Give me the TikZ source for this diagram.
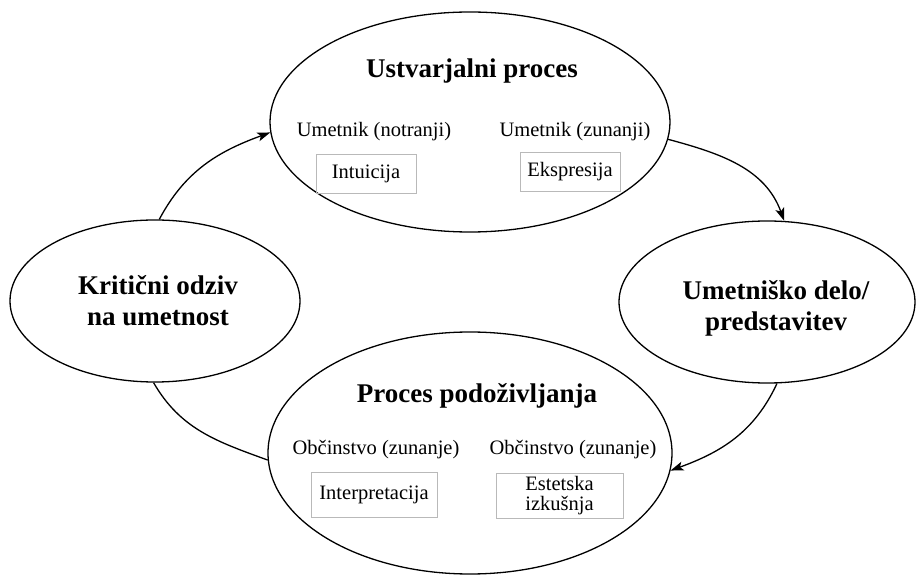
\documentclass[tikz,border=0pt]{standalone}
\usepackage{fontspec}
\setmainfont{Liberation Serif}
\usetikzlibrary{arrows.meta,shapes.geometric}

\begin{document}
\begin{tikzpicture}[
    x = 1pt, y = 1pt,
    line width = 1.3pt,
    >={Stealth[length=13pt,width=9pt,inset=3pt]},
    blob/.style = {
      draw,
      ellipse,
      inner sep = 0pt
    },
    head/.style = {
      font = \fontsize{27}{31}\selectfont\bfseries,
      align = center,
      inner sep = 0pt
    },
    lbl/.style = {
      font = \fontsize{20.5}{23}\selectfont,
      anchor = base,
      inner sep = 0pt
    },
    box/.style = {
      draw = gray!55,
      line width = 0.7pt,
      font = \fontsize{20.5}{20}\selectfont,
      align = center,
      inner sep = 0pt
    }
  ]
  \useasboundingbox (0,0) rectangle (916,576);

  % the four ellipses
  \node[blob, minimum width = 400pt, minimum height = 220pt] (proc) at (470,454) {};
  \node[blob, minimum width = 290pt, minimum height = 162pt] (crit) at (155,275) {};
  \node[blob, minimum width = 296pt, minimum height = 162pt] (delo) at (767,274) {};
  \node[blob, minimum width = 404pt, minimum height = 242pt] (dozi) at (470,123) {};

  % creative process
  \node[head, anchor = base] (procT) at (472,498) {Ustvarjalni proces};
  \node[lbl] (umIn) at (374,439) {Umetnik (notranji)};
  \node[lbl] (umOut) at (575,439) {Umetnik (zunanji)};
  \node[box, minimum width = 100pt, minimum height = 39pt] (intu) at (366,402.5) {Intuicija};
  \node[box, minimum width = 100pt, minimum height = 39pt] (ekspr) at (570,404.5) {Ekspresija};

  % the other two
  \node[head] (critT) at (158,275) {Kritični odziv\\na umetnost};
  \node[head] (deloT) at (776,268) {Umetniško delo/\\predstavitev};

  % process of re-living
  \node[head, anchor = base] (doziT) at (477,173) {Proces podoživljanja};
  \node[lbl] (obcA) at (376,121) {Občinstvo (zunanje)};
  \node[lbl] (obcB) at (573,121) {Občinstvo (zunanje)};
  \node[box, minimum width = 126pt, minimum height = 45pt] (interp) at (374,81.5) {Interpretacija};
  \node[box, minimum width = 127pt, minimum height = 45pt] (estet) at (559.5,80.5) {Estetska\\izkušnja};

  % cycle
  \draw[->] (crit.87) to[out = 62, in = 200] (proc.183);
  \draw[->] (proc.355) to[out = -15, in = 110] (delo.78);
  \draw[->] (delo.277) to[out = 245, in = 20] (dozi.355);
  \draw (dozi.182) to[out = 160, in = -60] (crit.269);

\end{tikzpicture}
\end{document}
